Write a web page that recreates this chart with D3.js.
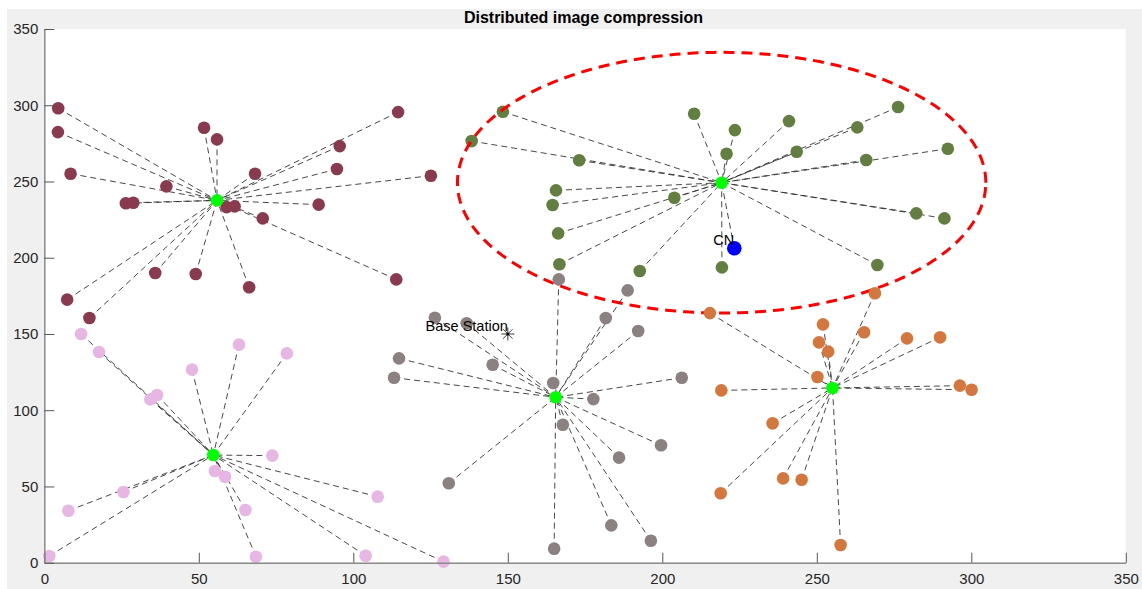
<!DOCTYPE html>
<html><head><meta charset="utf-8">
<script src="https://cdn.jsdelivr.net/npm/d3@7"></script>
<style>body{margin:0;background:#fff;} text{font-family:"Liberation Sans",Arial,Helvetica,sans-serif;}</style>
</head><body>
<svg id="chart" width="1142" height="589"></svg>
<script>
const title = "Distributed image compression";
const xTicks = [0,50,100,150,200,250,300,350];
const yTicks = [0,50,100,150,200,250,300,350];

// cluster 1 (maroon)
const c1x = [4.5,4.4,8.5,39.5,26.4,28.8,51.7,55.9,68.2,59.0,61.6,70.7,88.8,94.7,95.6,114.5,113.9,35.9,49.0,66.3,7.4,14.6,125.1];
const c1y = [298.0,282.4,255.1,246.8,235.7,236.1,285.2,277.6,255.1,233.2,233.7,225.8,234.8,258.2,273.2,295.5,185.8,190.0,189.3,180.6,172.5,160.5,253.8];
const head1 = [55.9,237.6];
// cluster 2 (olive)
const c2x = [148.4,138.3,173.1,165.6,164.5,166.3,166.7,203.9,192.7,210.3,223.5,220.8,219.3,241.0,263.1,276.3,243.5,266.0,292.4,282.2,291.3,269.6];
const c2y = [295.7,276.5,263.9,244.2,234.6,216.0,195.7,239.3,191.3,294.4,283.7,268.2,193.7,289.6,285.5,298.8,269.5,264.1,271.5,229.1,225.8,195.2];
const head2 = [219.2,249.2];
const cn = [223.3,206.2];
const circleRadius = 85.5;
// cluster 3 (gray)
const c3x = [126.4,136.7,114.8,113.2,145.1,164.7,177.7,167.8,181.7,188.8,192.2,206.3,199.6,186.0,130.9,183.5,196.3,165.0,166.5];
const c3y = [160.6,157.0,134.0,121.3,129.8,117.8,107.3,90.5,160.5,178.6,151.9,121.3,77.0,68.9,52.1,24.5,14.4,9.2,185.8];
const head3 = [165.5,108.5];
// cluster 4 (orange)
const c4x = [252.0,250.7,253.7,265.3,279.2,289.9,250.2,296.3,300.1,235.7,239.1,245.1,257.7,268.8,215.4,219.1,218.9];
const c4y = [156.3,144.5,138.4,151.1,147.1,147.8,121.8,116.1,113.4,91.4,55.3,54.4,11.6,176.7,163.7,113.0,45.5];
const head4 = [255.1,114.6];
// cluster 5 (pink)
const c5x = [11.9,17.7,34.3,36.5,47.8,63.0,78.5,73.8,55.2,58.5,65.1,107.9,104.0,68.5,25.6,7.8,1.6,129.2];
const c5y = [150.0,138.2,107.1,110.0,126.6,143.0,137.3,70.2,60.1,56.4,34.6,43.3,4.6,3.9,46.4,34.1,4.4,0.7];
const head5 = [54.7,70.6];
const baseStation = [150,150];

const svg = d3.select("#chart");
const x = d3.scaleLinear().domain([0,350]).range([44.3,1125.8]);
const y = d3.scaleLinear().domain([0,350]).range([562.7,29]);

svg.append("rect").attr("x",7).attr("y",9).attr("width",1135).attr("height",580).attr("fill","#f0f0f0");
svg.append("rect").attr("x",x(0)).attr("y",y(350)).attr("width",x(350)-x(0)).attr("height",y(0)-y(350)).attr("fill","#fff");

svg.append("text").attr("x",583.5).attr("y",23).attr("text-anchor","middle")
  .attr("font-size",16).attr("font-weight","bold").attr("fill","#000").text(title);

const clusters = [
  {xs:c1x, ys:c1y, head:head1, color:"#8a3a4e"},
  {xs:c2x, ys:c2y, head:head2, color:"#627e40"},
  {xs:c3x, ys:c3y, head:head3, color:"#8b8180"},
  {xs:c4x, ys:c4y, head:head4, color:"#d3773e"},
  {xs:c5x, ys:c5y, head:head5, color:"#e8b6e4"}
];

const plot = svg.append("g");
function drawCluster(c){
  const g = plot.append("g");
  c.xs.forEach((xv,i)=>{
    g.append("line").attr("x1",x(xv)).attr("y1",y(c.ys[i])).attr("x2",x(c.head[0])).attr("y2",y(c.head[1]))
      .attr("stroke","#333").attr("stroke-width",0.9).attr("stroke-dasharray","6,4");
  });
  if (c === clusters[1]) {
    g.append("line").attr("x1",x(cn[0])).attr("y1",y(cn[1])).attr("x2",x(c.head[0])).attr("y2",y(c.head[1]))
      .attr("stroke","#333").attr("stroke-width",0.9).attr("stroke-dasharray","6,4");
  }
  g.selectAll("circle.m").data(c.xs.map((xv,i)=>[xv,c.ys[i]])).join("circle")
    .attr("cx",d=>x(d[0])).attr("cy",d=>y(d[1])).attr("r",6.3).attr("fill",c.color);
  return g;
}
clusters.forEach((c,i)=>{
  drawCluster(c);
  if(i===1){
    const pts = d3.range(0,361,2).map(a=>[head2[0]+circleRadius*Math.cos(a*Math.PI/180), head2[1]+circleRadius*Math.sin(a*Math.PI/180)]);
    plot.append("path").attr("d",d3.line().x(d=>x(d[0])).y(d=>y(d[1]))(pts))
      .attr("fill","none").attr("stroke","#ff0000").attr("stroke-width",3).attr("stroke-dasharray","11,7");
  }
});
clusters.forEach(c=>{
  plot.append("circle").attr("cx",x(c.head[0])).attr("cy",y(c.head[1])).attr("r",6.3).attr("fill","#00ff00");
});
plot.append("circle").attr("cx",x(cn[0])).attr("cy",y(cn[1])).attr("r",7.3).attr("fill","#0000ff");
plot.append("text").attr("x",x(cn[0])).attr("y",y(cn[1])-3).attr("text-anchor","end").attr("font-size",14.5).attr("fill","#000").text("CN");
const bx = x(baseStation[0]), by = y(baseStation[1]);
const sr = 6.5;
[[sr,0],[0,sr],[sr*0.72,sr*0.72],[sr*0.72,-sr*0.72]].forEach(([dx,dy])=>{
  plot.append("line").attr("x1",bx-dx).attr("y1",by-dy).attr("x2",bx+dx).attr("y2",by+dy).attr("stroke","#222").attr("stroke-width",0.9);
});
plot.append("circle").attr("cx",bx).attr("cy",by).attr("r",1.5).attr("fill","#000");
plot.append("text").attr("x",bx).attr("y",by-2.5).attr("text-anchor","end").attr("font-size",14.5).attr("fill","#000").text("Base Station");

const xAxis = d3.axisBottom(x).tickValues(xTicks).tickSizeInner(-10).tickSizeOuter(0).tickPadding(11);
const yAxis = d3.axisLeft(y).tickValues(yTicks).tickSizeInner(-10).tickSizeOuter(0).tickPadding(6);
const gx = svg.append("g").attr("transform",`translate(0,${y(0)})`).call(xAxis);
const gy = svg.append("g").attr("transform",`translate(${x(0)},0)`).call(yAxis);
[gx,gy].forEach(g=>{
  g.select(".domain").attr("stroke","#8a8a8a").attr("stroke-width",1.5);
  g.selectAll(".tick line").attr("stroke","#555").attr("stroke-width",1);
  g.selectAll(".tick text").attr("fill","#262626").attr("font-size",15).attr("font-family","Liberation Sans, Arial, sans-serif");
});
</script>
</body></html>
